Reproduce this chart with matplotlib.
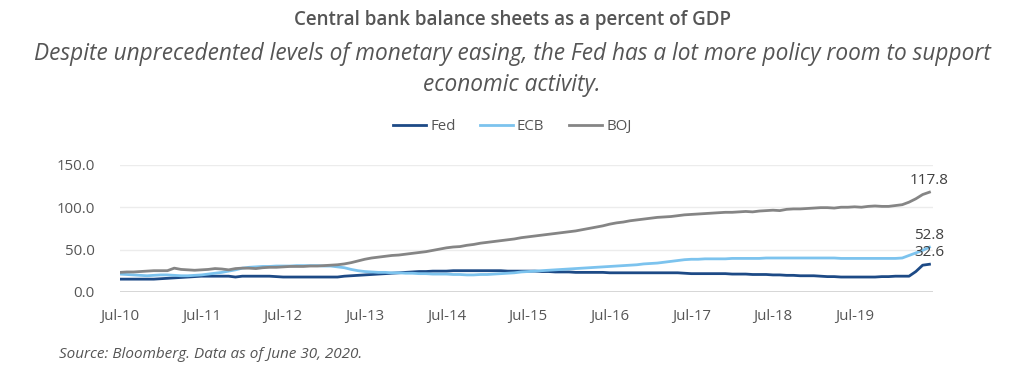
import matplotlib.pyplot as plt
import numpy as np

# monthly, Jul-10 .. Jun-20
fed = [15, 15, 15, 15, 15, 15, 15.5, 16, 16.5, 17, 17.5, 18,
       18.5, 18.5, 18.5, 18.5, 18.5, 17.5, 18.5, 18.5, 18.5, 18.5, 18.5, 18,
       17.5, 17.5, 17.5, 17.5, 17.5, 17.5, 17.5, 17.5, 17.5, 18.5, 19, 19.5,
       20, 20.5, 21, 21.5, 22, 22.5, 23, 23.5, 24, 24, 24.5, 24.5,
       24.5, 25, 25, 25, 25, 25, 25, 25, 25, 24.5, 24.5, 24.5,
       24.5, 24.5, 24, 24, 23.5, 23.5, 23.5, 23, 23, 23, 23, 23,
       22.5, 22.5, 22.5, 22.5, 22.5, 22.5, 22.5, 22.5, 22.5, 22.5, 22.5, 22,
       21.5, 21.5, 21.5, 21.5, 21.5, 21.5, 21, 21, 21, 20.5, 20.5, 20.5,
       20, 20, 19.5, 19.5, 19, 19, 19, 18.5, 18, 18, 17.5, 17.5,
       17.5, 17.5, 17.5, 17.5, 18, 18, 18.5, 18.5, 18.5, 24, 31.5, 32.6]
ecb = [21, 20.5, 20, 19.5, 19, 19.5, 20, 20, 19.5, 19, 19, 19.5,
       20, 21, 22, 23, 24.5, 26, 28, 29, 29.5, 30, 30, 30.5,
       30.5, 30.5, 31, 31, 31, 31, 30.5, 30.5, 29.5, 28.5, 26.5, 25,
       24, 23.5, 23, 23, 22.5, 22.5, 22, 22, 21.5, 21.5, 21, 21,
       21, 20.5, 20.5, 20, 20, 20.5, 20.5, 21, 21.5, 22, 22.5, 23.5,
       24, 24.5, 25, 25.5, 26, 26.5, 27, 27.5, 28, 28.5, 29, 29.5,
       30, 30.5, 31, 31.5, 32, 33, 33.5, 34, 35, 36, 37, 38,
       38.5, 38.5, 39, 39, 39, 39, 39.5, 39.5, 39.5, 39.5, 39.5, 40,
       40, 40, 40, 40, 40, 40, 40, 40, 40, 40, 39.5, 39.5,
       39.5, 39.5, 39.5, 39.5, 39.5, 39.5, 39.5, 40, 43, 46, 49, 52.8]
boj = [23, 23.5, 23.5, 24, 24.5, 25, 25, 25, 28, 26.5, 26, 25.5,
       26, 26.5, 27.5, 27, 26, 27.5, 28, 28, 27.5, 28.5, 29, 29,
       29.5, 30, 30, 30, 30.5, 30.5, 31, 31.5, 32, 33, 34.5, 36.5,
       38.5, 40, 41, 42, 43, 43.5, 44.5, 45.5, 46.5, 47.5, 49, 50.5,
       52, 53, 53.5, 55, 56, 57.5, 58.5, 59.5, 60.5, 61.5, 62.5, 64,
       65, 66, 67, 68, 69, 70, 71, 72, 73.5, 75, 76.5, 78,
       80, 81.5, 82.5, 84, 85, 86, 87, 88, 88.5, 89, 90, 91,
       91.5, 92, 92.5, 93, 93.5, 94, 94, 94.5, 95, 94.5, 95.5, 96,
       96.5, 96, 97.5, 98, 98, 98.5, 99, 99.5, 99.5, 99, 100, 100,
       100.5, 100, 101, 101.5, 101, 101, 102, 103, 106, 110, 115, 117.8]
xlabels = ["Jul-10", "Jul-11", "Jul-12", "Jul-13", "Jul-14",
           "Jul-15", "Jul-16", "Jul-17", "Jul-18", "Jul-19"]

txt = "#555555"
plt.rcParams['font.family'] = ['Open Sans', 'DejaVu Sans']

fig = plt.figure(figsize=(10.24, 3.8), dpi=100)
ax = fig.add_axes([0.117, 0.232, 0.794, 0.334])

x = np.arange(len(fed))
ax.plot(x, fed, color="#1d4a86", lw=2, label="Fed")
ax.plot(x, ecb, color="#7cc3ee", lw=2, label="ECB")
ax.plot(x, boj, color="#858585", lw=2, label="BOJ")

for s in (boj, ecb, fed):
    ax.annotate(f"{s[-1]:.1f}", (x[-1], s[-1]), xytext=(0, 3),
                textcoords="offset points", ha="center", va="bottom",
                fontsize=11, color="#404040")

ax.set_xlim(0, 119.5)
ax.set_ylim(0, 150)
ax.set_yticks([0, 50, 100, 150])
ax.set_yticklabels(["0.0", "50.0", "100.0", "150.0"])
ax.set_xticks(np.arange(0, 120, 12))
ax.set_xticklabels(xlabels)
ax.tick_params(length=0, labelsize=10.8, labelcolor=txt)
ax.tick_params(axis="x", pad=12)
ax.tick_params(axis="y", pad=18)
ax.grid(axis="y", color="#ececec", lw=1)
ax.axhline(0, color="#d0d0d0", lw=1.2)
for sp in ax.spines.values():
    sp.set_visible(False)

fig.text(0.5, 0.947, "Central bank balance sheets as a percent of GDP",
         ha="center", va="center", fontsize=13.5, color=txt, fontweight="semibold")
fig.text(0.5, 0.858, "Despite unprecedented levels of monetary easing, the Fed has a lot more policy room to support",
         ha="center", va="center", fontsize=16.3, color=txt, style="italic")
fig.text(0.5, 0.776, "economic activity.",
         ha="center", va="center", fontsize=16.3, color=txt, style="italic")
fig.legend(loc="center", bbox_to_anchor=(0.5, 0.666), ncol=3, frameon=False,
           fontsize=10.8, handlelength=2.2, handletextpad=0.3, columnspacing=1.6,
           labelcolor=txt)
fig.text(0.058, 0.066, "Source: Bloomberg. Data as of June 30, 2020.",
         va="center", fontsize=11, color=txt, style="italic")

fig.savefig("out.png", dpi=100)
